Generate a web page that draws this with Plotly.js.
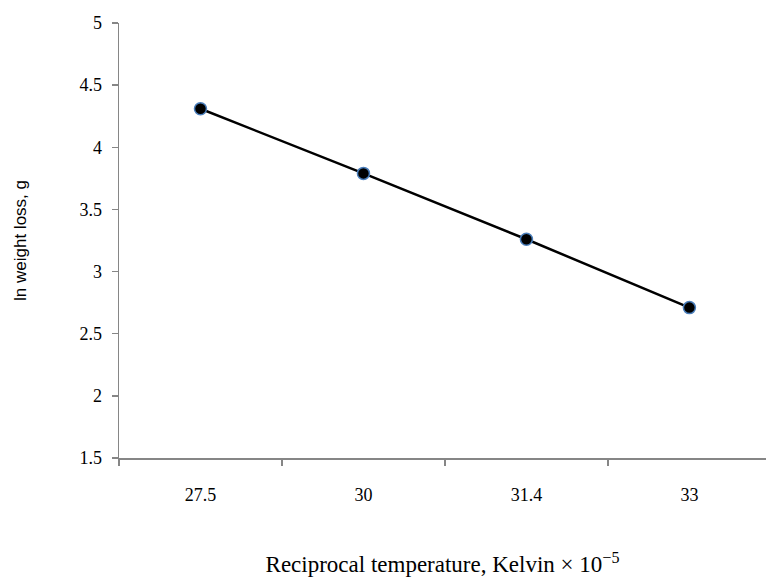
<!DOCTYPE html>
<html>
<head>
<meta charset="utf-8">
<script src="https://cdn.plot.ly/plotly-3.0.1.min.js"></script>
<style>html,body{margin:0;padding:0;background:#fff;}#chart{width:766px;height:581px;}</style>
</head>
<body>
<div id="chart"></div>
<script>
const categories = ["27.5", "30", "31.4", "33"];
const lnWeightLoss = [4.31, 3.79, 3.26, 2.71];
const yTickVals = [1.5, 2, 2.5, 3, 3.5, 4, 4.5, 5];
const yTickText = ["1.5", "2", "2.5", "3", "3.5", "4", "4.5", "5"];

const serif = "Liberation Serif";
const sans = "Liberation Sans";

const trace = {
  x: categories,
  y: lnWeightLoss,
  type: "scatter",
  mode: "lines+markers",
  line: {color: "#000000", width: 2.5},
  marker: {color: "#000000", size: 12, line: {color: "#4a7ebb", width: 1.5}},
  hoverinfo: "none"
};

const layout = {
  width: 766,
  height: 581,
  font: {family: serif, size: 18, color: "#000000"},
  margin: {l: 119, r: 0, t: 23, b: 123},
  paper_bgcolor: "#ffffff",
  plot_bgcolor: "#ffffff",
  showlegend: false,
  xaxis: {
    type: "category",
    range: [-0.5, 3.47],
    showgrid: false,
    zeroline: false,
    showline: true,
    linecolor: "#868686",
    linewidth: 1.5,
    ticks: "outside",
    tickson: "boundaries",
    ticklen: 6,
    tickcolor: "#868686",
    tickwidth: 1.5,
    tickfont: {family: serif, size: 18, color: "#000000"},
    ticklabelstandoff: 20,
    title: {
      text: "Reciprocal temperature, Kelvin \u00d7 10<sup>\u22125</sup>",
      font: {family: serif, size: 23, color: "#000000"},
      standoff: 52
    }
  },
  yaxis: {
    range: [1.5, 5],
    tickvals: yTickVals,
    ticktext: yTickText,
    showgrid: false,
    zeroline: false,
    showline: true,
    linecolor: "#868686",
    linewidth: 1.5,
    ticks: "outside",
    ticklen: 6,
    tickcolor: "#868686",
    tickwidth: 1.5,
    tickfont: {family: serif, size: 18, color: "#000000"},
    ticklabelstandoff: 6,
    title: {
      text: "ln weight loss, g",
      font: {family: sans, size: 17, color: "#000000"},
      standoff: 48
    }
  }
};

Plotly.newPlot("chart", [trace], layout, {displayModeBar: false, staticPlot: true});
</script>
</body>
</html>
